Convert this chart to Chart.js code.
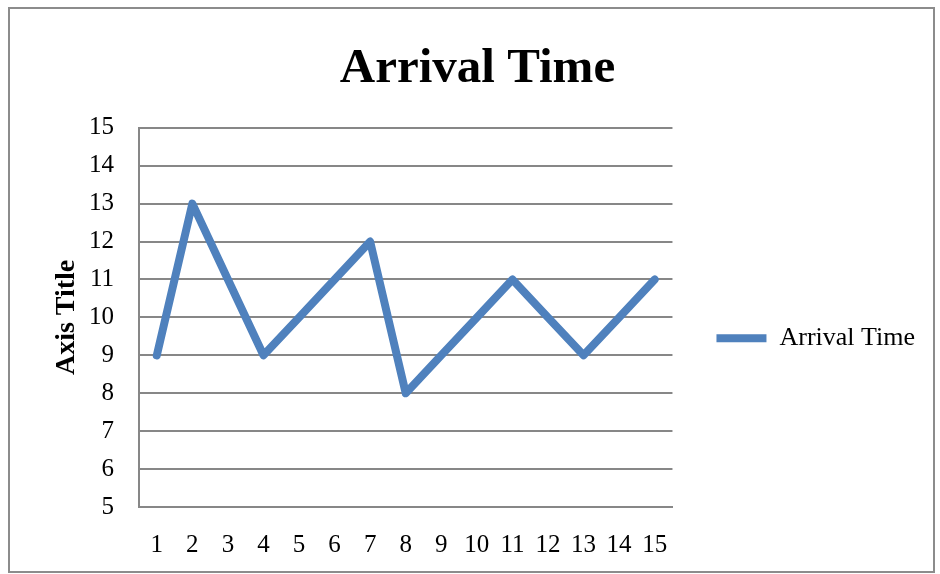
<!DOCTYPE html>
<html>
<head>
<meta charset="utf-8">
<script src="https://cdn.jsdelivr.net/npm/chart.js@4.4.1/dist/chart.umd.min.js"></script>
<style>
  html, body { margin: 0; padding: 0; background: #fff; }
  #wrap { width: 940px; height: 574px; }
</style>
</head>
<body>
<div id="wrap"><canvas id="arrivalChart" width="940" height="574"></canvas></div>
<script>
const categories = ["1", "2", "3", "4", "5", "6", "7", "8", "9", "10", "11", "12", "13", "14", "15"];
const arrivalTimes = [9, 13, 11, 9, 10, 11, 12, 8, 9, 10, 11, 10, 9, 10, 11];
const yMin = 5;
const yMax = 15;

const serif = "'Liberation Serif', 'DejaVu Serif', serif";
const gridGray = "#878787";

// gray frame round the whole chart
const frame = {
  id: "frame",
  beforeDraw(chart) {
    const c = chart.ctx;
    c.save();
    c.fillStyle = "#fff";
    c.fillRect(0, 0, chart.width, chart.height);
    c.strokeStyle = "#8c8c8c";
    c.lineWidth = 2;
    c.strokeRect(9, 8, 925, 564);
    c.restore();
  }
};

const ctx = document.getElementById("arrivalChart").getContext("2d");

new Chart(ctx, {
  type: "line",
  data: {
    labels: categories,
    datasets: [{
      label: "Arrival Time",
      data: arrivalTimes,
      fill: false,
      borderColor: "#4F81BD",
      backgroundColor: "#4F81BD",
      borderWidth: 8,
      borderCapStyle: "round",
      borderJoinStyle: "round",
      tension: 0,
      pointRadius: 0,
      pointHoverRadius: 0
    }]
  },
  options: {
    responsive: false,
    animation: false,
    layout: {
      padding: { top: 0, left: 30, right: 15, bottom: 0 }
    },
    scales: {
      x: {
        offset: true,
        afterFit(scale) { scale.height = 67; },
        grid: { display: false, drawTicks: false },
        border: { display: true, color: gridGray, width: 2 },
        ticks: {
          color: "#000",
          padding: 23,
          maxRotation: 0,
          autoSkip: false,
          font: { family: serif, size: 25 }
        }
      },
      y: {
        min: yMin,
        max: yMax,
        afterFit(scale) { scale.width = 109; },
        grid: { color: gridGray, lineWidth: 2, drawTicks: false },
        border: { display: true, color: gridGray, width: 2 },
        ticks: {
          stepSize: 1,
          color: "#000",
          padding: 25,
          font: { family: serif, size: 25 }
        },
        title: {
          display: true,
          text: "Axis Title",
          color: "#000",
          padding: { top: 20, bottom: 0 },
          font: { family: serif, size: 28, weight: "bold" }
        }
      }
    },
    plugins: {
      title: {
        display: true,
        text: "Arrival Time",
        color: "#000",
        padding: { top: 40, bottom: 29 },
        font: { family: serif, size: 49, weight: "bold" }
      },
      legend: {
        position: "right",
        maxWidth: 300,
        title: {
          // empty title only pushes the entry down
          display: true,
          text: "",
          padding: { top: 88, bottom: 0 },
          font: { size: 12 }
        },
        labels: {
          usePointStyle: true,
          pointStyle: "line",
          pointStyleWidth: 50,
          color: "#000",
          padding: 44,
          font: { family: serif, size: 26 }
        }
      },
      tooltip: { enabled: false }
    }
  },
  plugins: [frame]
});
</script>
</body>
</html>
